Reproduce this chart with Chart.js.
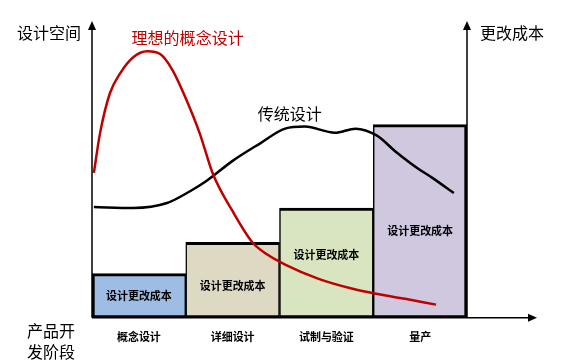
<!DOCTYPE html>
<html>
<head>
<meta charset="utf-8">
<script src="https://cdn.jsdelivr.net/npm/chart.js@4/dist/chart.umd.min.js"></script>
<style>
  html, body { margin: 0; padding: 0; background: #fff; }
  .wrap { width: 570px; height: 363px; position: relative; }
</style>
</head>
<body>
<div class="wrap"><canvas id="c" width="570" height="363"></canvas></div>
<script>
// stages and cost of design change (right axis)
const stages = ["概念设计", "详细设计", "试制与验证", "量产"];
const changeCost = [15.1, 25.8, 37.5, 66.0];
const costLabel = "设计更改成本";
const barColors = ["#9dbde4", "#ddd9c3", "#d9e5c0", "#d0c8df"];

// design space curves, x = position along stages (0..4)
const idealX = [0.02, 0.085, 0.19, 0.30, 0.44, 0.59, 0.73, 0.86, 1.01, 1.15, 1.29, 1.50, 1.71, 1.87, 2.06, 2.41, 2.77, 3.03, 3.34, 3.67];
const idealY = [49.5, 62.9, 76.6, 83.5, 89.0, 91.0, 90.0, 84.5, 74.2, 62.9, 49.1, 36.4, 25.8, 21.6, 18.2, 13.4, 10.0, 8.2, 6.5, 4.5];
const tradX = [0.02, 0.44, 0.80, 1.05, 1.22, 1.50, 1.79, 2.06, 2.27, 2.59, 2.81, 3.04, 3.23, 3.48, 3.63, 3.86];
const tradY = [37.8, 37.5, 39.2, 43.3, 46.7, 53.6, 59.5, 64.6, 65.3, 63.2, 64.6, 62.2, 57.0, 50.9, 47.8, 42.6];

const toPts = (xs, ys) => xs.map((x, i) => ({ x: x, y: ys[i] }));

const cjk = '"Noto Sans CJK SC", "Noto Sans", sans-serif';

function arrow(ctx, x, y, dir) {
  ctx.beginPath();
  if (dir === "up") {
    ctx.moveTo(x, y - 2); ctx.lineTo(x - 4, y + 7); ctx.lineTo(x + 4, y + 7);
  } else {
    ctx.moveTo(x + 2, y); ctx.lineTo(x - 7, y - 4); ctx.lineTo(x - 7, y + 4);
  }
  ctx.closePath();
  ctx.fill();
}

const decor = {
  id: "decor",
  afterDatasetsDraw(chart) {
    const ctx = chart.ctx;
    const a = chart.chartArea;
    const xs = chart.scales.x2, ys = chart.scales.y;
    ctx.save();
    ctx.strokeStyle = "#000";
    ctx.fillStyle = "#000";
    ctx.lineWidth = 1.5;
    ctx.beginPath();
    ctx.moveTo(a.left, a.bottom); ctx.lineTo(a.left, a.top + 2);
    ctx.moveTo(a.right, a.bottom); ctx.lineTo(a.right, a.top + 2);
    ctx.moveTo(a.left, a.bottom); ctx.lineTo(533, a.bottom);
    ctx.stroke();
    arrow(ctx, a.left, a.top - 2, "up");
    arrow(ctx, a.right, a.top - 2, "up");
    arrow(ctx, 535, a.bottom, "right");

    // labels inside bars
    const offs = [0, 6, -8, 10];
    ctx.font = "bold 11px " + cjk;
    ctx.textAlign = "center";
    ctx.textBaseline = "middle";
    chart.getDatasetMeta(0).data.forEach((bar, i) => {
      ctx.fillText(costLabel, bar.x, (bar.y + bar.base) / 2 + offs[i]);
    });

    // axis titles
    ctx.font = "16px " + cjk;
    ctx.textAlign = "left";
    ctx.fillText("设计空间", 17, 33);
    ctx.fillText("更改成本", 480, 33);
    ctx.fillText("产品开", 27, 331);
    ctx.fillText("发阶段", 27, 352);

    // curve labels
    ctx.textAlign = "center";
    ctx.fillStyle = "#c00000";
    ctx.fillText("理想的概念设计", xs.getPixelForValue(1.02), ys.getPixelForValue(95.5));
    ctx.fillStyle = "#000";
    ctx.fillText("传统设计", xs.getPixelForValue(2.11), ys.getPixelForValue(69.8));
    ctx.restore();
  }
};

new Chart(document.getElementById("c"), {
  data: {
    labels: stages,
    datasets: [
      {
        type: "bar",
        data: changeCost,
        backgroundColor: barColors,
        borderColor: "#000",
        borderWidth: (c) => ({
          top: 3,
          bottom: 3,
          left: c.dataIndex === 0 ? 3 : 1.5,
          right: c.dataIndex === stages.length - 1 ? 3 : 1.5
        }),
        borderSkipped: false,
        grouped: false,
        categoryPercentage: 1,
        barPercentage: 1,
        xAxisID: "x",
        yAxisID: "y",
        order: 2
      },
      {
        type: "line",
        data: toPts(tradX, tradY),
        borderColor: "#000",
        borderWidth: 2.5,
        pointRadius: 0,
        cubicInterpolationMode: "monotone",
        xAxisID: "x2",
        yAxisID: "y",
        order: 1
      },
      {
        type: "line",
        data: toPts(idealX, idealY),
        borderColor: "#c00000",
        borderWidth: 2.5,
        pointRadius: 0,
        cubicInterpolationMode: "monotone",
        xAxisID: "x2",
        yAxisID: "y",
        order: 0
      }
    ]
  },
  options: {
    responsive: false,
    animation: false,
    layout: { padding: { left: 92, right: 103, top: 25, bottom: 8 } },
    plugins: { legend: { display: false }, tooltip: { enabled: false } },
    scales: {
      x: {
        type: "category",
        offset: true,
        grid: { display: false, drawTicks: false },
        border: { display: false },
        ticks: { color: "#000", padding: 12, font: { family: cjk, size: 11, weight: "bold" } }
      },
      x2: { type: "linear", min: 0, max: 4, display: false },
      y: { min: 0, max: 100, display: false }
    }
  },
  plugins: [decor]
});
</script>
</body>
</html>
